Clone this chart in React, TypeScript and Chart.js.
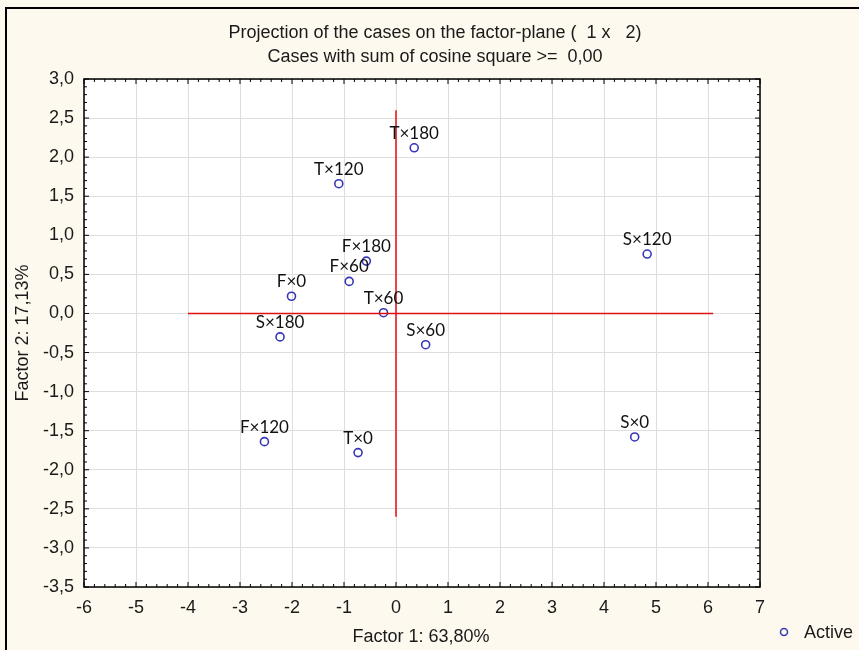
import React, { useEffect, useRef } from "react";
import { Chart, registerables } from "chart.js";

Chart.register(...registerables);

const caseLabels = ["T×180", "T×120", "F×180", "F×60", "F×0", "T×60", "S×180", "S×60", "S×120", "F×120", "T×0", "S×0"];
const factor1 = [0.35, -1.10, -0.57, -0.90, -2.01, -0.24, -2.23, 0.57, 4.83, -2.53, -0.73, 4.59];
const factor2 = [2.12, 1.66, 0.67, 0.41, 0.22, 0.01, -0.30, -0.40, 0.76, -1.64, -1.78, -1.58];
const hLineX = [-4.0, 6.1];
const vLineY = [-2.6, 2.6];
const titleLines = ["Projection of the cases on the factor-plane (  1 x   2)", "Cases with sum of cosine square >=  0,00"];
const xTitle = "Factor 1: 63,80%";
const yTitle = "Factor 2: 17,13%";
const legendLabel = "Active";

const FONT = "'Liberation Sans', Arial, sans-serif";
const LABEL_FONT = "Lato, 'Open Sans', sans-serif";
const BLUE = "#3636b8";

export default function App() {
  const ref = useRef<HTMLCanvasElement | null>(null);
  useEffect(() => {
    const canvas = ref.current;
    if (!canvas) return;
    const points = factor1.map((x, i) => ({ x, y: factor2[i] }));

    const decor = {
      id: "decor",
      beforeDraw(chart: any) {
        const { ctx, width, height, chartArea } = chart;
        ctx.save();
        ctx.fillStyle = "#fdf9ee";
        ctx.fillRect(0, 0, width, height);
        ctx.fillStyle = "#ffffff";
        ctx.fillRect(chartArea.left, chartArea.top, chartArea.right - chartArea.left, chartArea.bottom - chartArea.top);
        ctx.restore();
      },
      afterDatasetsDraw(chart: any) {
        const { ctx, chartArea, scales } = chart;
        const xs = scales.x, ys = scales.y;
        ctx.save();
        // point labels
        ctx.font = "17px " + LABEL_FONT;
        ctx.fillStyle = "#111";
        ctx.textAlign = "center";
        ctx.textBaseline = "alphabetic";
        caseLabels.forEach((lab, i) => {
          const px = xs.getPixelForValue(factor1[i]);
          const py = ys.getPixelForValue(factor2[i]);
          ctx.fillText(lab, px, py - 9);
        });
        // frame
        ctx.strokeStyle = "#000";
        ctx.lineWidth = 1.5;
        ctx.strokeRect(chartArea.left, chartArea.top, chartArea.right - chartArea.left, chartArea.bottom - chartArea.top);
        // ticks inward
        ctx.lineWidth = 1;
        ctx.beginPath();
        for (let k = -60; k <= 70; k += 2) {
          const px = xs.getPixelForValue(k / 10);
          const len = k % 10 === 0 ? 5 : 3;
          ctx.moveTo(px, chartArea.bottom);
          ctx.lineTo(px, chartArea.bottom - len);
          ctx.moveTo(px, chartArea.top);
          ctx.lineTo(px, chartArea.top + len);
        }
        for (let k = -35; k <= 30; k += 1) {
          const py = ys.getPixelForValue(k / 10);
          const len = k % 5 === 0 ? 5 : 3;
          ctx.moveTo(chartArea.left, py);
          ctx.lineTo(chartArea.left + len, py);
          ctx.moveTo(chartArea.right, py);
          ctx.lineTo(chartArea.right - len, py);
        }
        ctx.stroke();
        ctx.restore();
      },
      afterDraw(chart: any) {
        const { ctx, width, height } = chart;
        ctx.save();
        ctx.fillStyle = "#1a1a1a";
        ctx.textAlign = "center";
        ctx.textBaseline = "alphabetic";
        ctx.font = "18px " + FONT;
        ctx.fillText(titleLines[0], 435, 38);
        ctx.fillText(titleLines[1], 435, 62);
        ctx.fillText(xTitle, 421, 642);
        ctx.save();
        ctx.translate(28, 333);
        ctx.rotate(-Math.PI / 2);
        ctx.fillText(yTitle, 0, 0);
        ctx.restore();
        // legend
        ctx.strokeStyle = BLUE;
        ctx.lineWidth = 1.5;
        ctx.beginPath();
        ctx.arc(784, 632, 3.5, 0, Math.PI * 2);
        ctx.stroke();
        ctx.textAlign = "left";
        ctx.fillText(legendLabel, 804, 638);
        // outer frame
        ctx.strokeStyle = "#000";
        ctx.lineWidth = 2;
        ctx.beginPath();
        ctx.moveTo(6, height);
        ctx.lineTo(6, 8);
        ctx.lineTo(width, 8);
        ctx.stroke();
        ctx.restore();
      },
    };

    const chart = new Chart(canvas, {
      type: "scatter",
      data: {
        datasets: [
          {
            label: "hline",
            data: hLineX.map((x) => ({ x, y: 0 })),
            showLine: true,
            borderColor: "#e01010",
            borderWidth: 1.5,
            pointRadius: 0,
          },
          {
            label: "vline",
            data: vLineY.map((y) => ({ x: 0, y })),
            showLine: true,
            borderColor: "#e01010",
            borderWidth: 1.5,
            pointRadius: 0,
          },
          {
            label: legendLabel,
            data: points,
            pointStyle: "circle",
            pointRadius: 4,
            pointBorderWidth: 1.6,
            borderColor: BLUE,
            backgroundColor: "rgba(0,0,0,0)",
          },
        ],
      },
      options: {
        responsive: false,
        animation: false,
        devicePixelRatio: 1,
        layout: { padding: { left: 0, right: 99, top: 79, bottom: 0 } },
        plugins: { legend: { display: false }, tooltip: { enabled: false }, title: { display: false } },
        scales: {
          x: {
            type: "linear",
            min: -6,
            max: 7,
            afterFit: (s: any) => { s.height = 63; },
            ticks: {
              stepSize: 1,
              padding: 10,
              color: "#1a1a1a",
              font: { family: FONT, size: 18 },
              callback: (v: any) => String(v),
            },
            grid: { color: "#dedede", drawTicks: false },
            border: { display: false },
          },
          y: {
            type: "linear",
            min: -3.5,
            max: 3,
            afterFit: (s: any) => { s.width = 84; },
            ticks: {
              stepSize: 0.5,
              padding: 10,
              color: "#1a1a1a",
              font: { family: FONT, size: 18 },
              callback: (v: any) => Number(v).toFixed(1).replace(".", ","),
            },
            grid: { color: "#dedede", drawTicks: false },
            border: { display: false },
          },
        },
      },
      plugins: [decor],
    } as any);
    return () => chart.destroy();
  }, []);
  return (
    <div style={{ position: "fixed", left: 0, top: 0, width: 859, height: 650 }}>
      <canvas ref={ref} width={859} height={650} style={{ display: "block" }} />
    </div>
  );
}
